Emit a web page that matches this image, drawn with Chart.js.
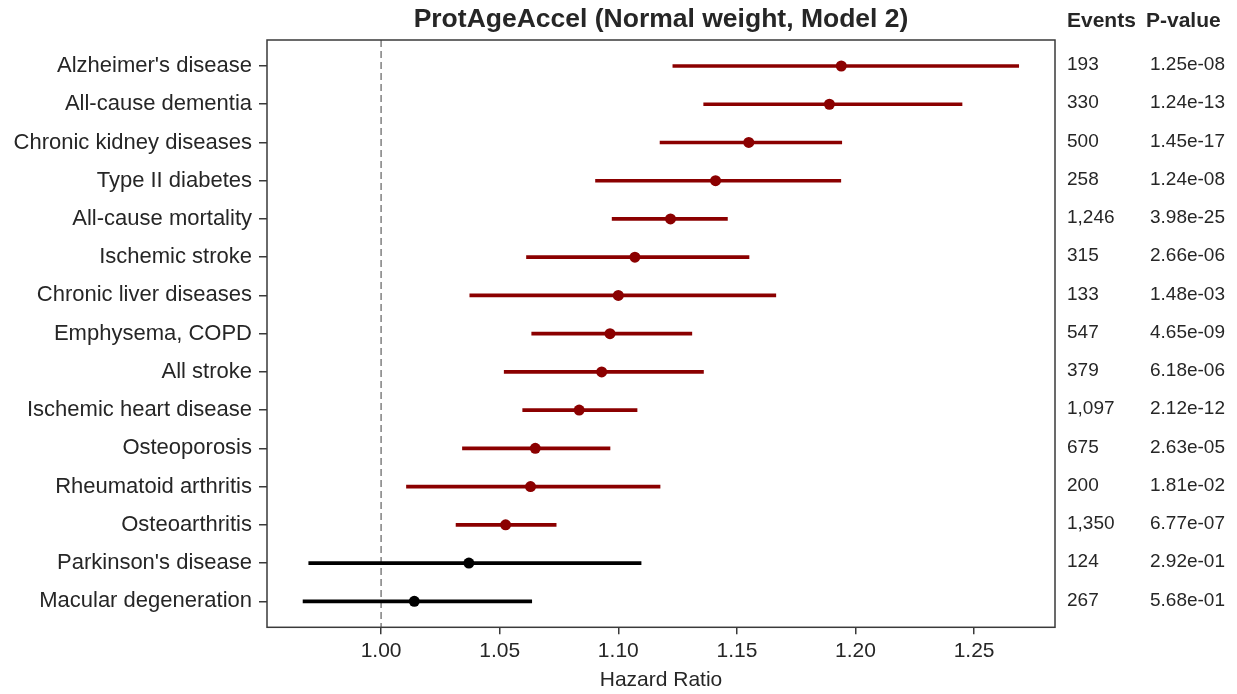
<!DOCTYPE html>
<html>
<head>
<meta charset="utf-8">
<script src="https://cdn.jsdelivr.net/npm/chart.js@4.4.1/dist/chart.umd.min.js"></script>
<style>
  html, body { margin: 0; padding: 0; background: #fff; }
</style>
</head>
<body>
<canvas id="forest" width="1237" height="694"></canvas>
<script>
// outcomes, top to bottom
const outcomes = [
  "Alzheimer's disease", 'All-cause dementia', 'Chronic kidney diseases', 'Type II diabetes',
  'All-cause mortality', 'Ischemic stroke', 'Chronic liver diseases', 'Emphysema, COPD',
  'All stroke', 'Ischemic heart disease', 'Osteoporosis', 'Rheumatoid arthritis',
  'Osteoarthritis', "Parkinson's disease", 'Macular degeneration'
];
const hazardRatio = [1.194, 1.189, 1.155, 1.141, 1.122, 1.107, 1.100, 1.0965, 1.093, 1.0835, 1.065, 1.063, 1.0525, 1.037, 1.014];
const ciLow  = [1.123, 1.136, 1.1176, 1.0904, 1.0974, 1.0613, 1.0374, 1.0635, 1.0519, 1.0597, 1.0343, 1.0107, 1.0316, 0.9695, 0.9671];
const ciHigh = [1.2688, 1.2449, 1.1942, 1.1938, 1.146, 1.1551, 1.1664, 1.131, 1.1359, 1.1079, 1.0965, 1.1176, 1.0738, 1.1096, 1.0635];
const events = ['193', '330', '500', '258', '1,246', '315', '133', '547', '379', '1,097', '675', '200', '1,350', '124', '267'];
const pValues = ['1.25e-08', '1.24e-13', '1.45e-17', '1.24e-08', '3.98e-25', '2.66e-06', '1.48e-03', '4.65e-09',
  '6.18e-06', '2.12e-12', '2.63e-05', '1.81e-02', '6.77e-07', '2.92e-01', '5.68e-01'];
const xTicks = [1.00, 1.05, 1.10, 1.15, 1.20, 1.25];

const FONT = '"Liberation Sans", Arial, sans-serif';
const TEXT = '#262626';
// red when p < 0.05, black otherwise
const colors = pValues.map(p => (parseFloat(p) < 0.05 ? '#8b0000' : '#000000'));

Chart.defaults.font.family = FONT;
Chart.defaults.color = TEXT;

// frame, reference line, title and the events / p-value columns
const decor = {
  id: 'decor',
  beforeDatasetsDraw(chart) {
    const { ctx, chartArea, scales } = chart;
    const x1 = scales.x.getPixelForValue(1);
    ctx.save();
    ctx.strokeStyle = '#808080';
    ctx.lineWidth = 1.5;
    ctx.setLineDash([7, 4]);
    ctx.beginPath();
    ctx.moveTo(x1, chartArea.top);
    ctx.lineTo(x1, chartArea.bottom);
    ctx.stroke();
    ctx.restore();
  },
  afterDraw(chart) {
    const { ctx, chartArea, scales } = chart;
    ctx.save();
    ctx.strokeStyle = '#3a3a3a';
    ctx.lineWidth = 1.5;
    ctx.strokeRect(chartArea.left, chartArea.top, chartArea.right - chartArea.left, chartArea.bottom - chartArea.top);

    ctx.fillStyle = TEXT;
    ctx.textBaseline = 'alphabetic';
    ctx.textAlign = 'center';
    ctx.font = 'bold 26.5px ' + FONT;
    ctx.fillText('ProtAgeAccel (Normal weight, Model 2)', (chartArea.left + chartArea.right) / 2, 27);

    ctx.textAlign = 'left';
    ctx.font = 'bold 21px ' + FONT;
    ctx.fillText('Events', 1067, 27);
    ctx.fillText('P-value', 1146, 27);

    ctx.font = '19px ' + FONT;
    ctx.textBaseline = 'middle';
    outcomes.forEach((_, i) => {
      const y = scales.y.getPixelForValue(i) - 1;
      ctx.fillText(events[i], 1067, y);
      ctx.fillText(pValues[i], 1150, y);
    });
    ctx.restore();
  }
};

new Chart(document.getElementById('forest'), {
  type: 'bar',
  data: {
    datasets: [
      {
        type: 'scatter',
        data: hazardRatio.map((hr, i) => ({ x: hr, y: i })),
        pointRadius: 5.5,
        pointHoverRadius: 5.5,
        pointBackgroundColor: colors,
        pointBorderWidth: 0,
        order: 0
      },
      {
        type: 'bar',
        indexAxis: 'y',
        data: ciLow.map((lo, i) => ({ y: i, x: [lo, ciHigh[i]] })),
        backgroundColor: colors,
        borderWidth: 0,
        barThickness: 3,
        order: 1
      }
    ]
  },
  options: {
    responsive: false,
    animation: false,
    indexAxis: 'y',
    layout: { padding: { top: 40, right: 182, bottom: 0, left: 0 } },
    plugins: { legend: { display: false }, tooltip: { enabled: false } },
    scales: {
      x: {
        type: 'linear',
        min: 0.9519,
        max: 1.2841,
        afterBuildTicks: s => { s.ticks = xTicks.map(v => ({ value: v })); },
        afterFit: s => { s.height = 66.7; },
        grid: { display: true, drawOnChartArea: false, tickLength: 7, color: '#3a3a3a', lineWidth: 1.5 },
        border: { display: false },
        ticks: { callback: v => v.toFixed(2), font: { size: 21 }, color: TEXT, padding: 4 },
        title: { display: true, text: 'Hazard Ratio', font: { size: 21 }, color: TEXT, padding: { top: 0, bottom: 1 } }
      },
      y: {
        type: 'linear',
        reverse: true,
        offset: false,
        min: -0.68,
        max: 14.68,
        afterBuildTicks: s => { s.ticks = outcomes.map((_, i) => ({ value: i })); },
        afterFit: s => { s.width = 267; },
        grid: { display: true, offset: false, drawOnChartArea: false, tickLength: 8, color: '#3a3a3a', lineWidth: 1.5 },
        border: { display: false },
        ticks: { callback: v => outcomes[v], font: { size: 22 }, color: TEXT, padding: 7, autoSkip: false }
      }
    }
  },
  plugins: [decor]
});
</script>
</body>
</html>
